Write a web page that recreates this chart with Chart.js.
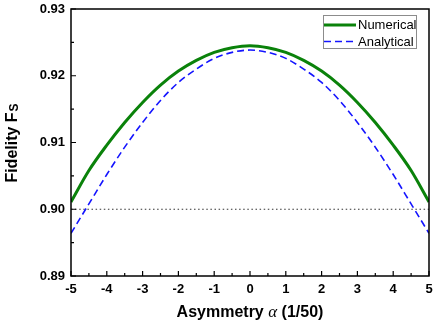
<!DOCTYPE html>
<html>
<head>
<meta charset="utf-8">
<script src="https://cdn.jsdelivr.net/npm/chart.js@4.4.1/dist/chart.umd.min.js"></script>
<style>
  html, body { margin: 0; padding: 0; background: #fff; }
  #wrap { width: 436px; height: 326px; }
</style>
</head>
<body>
<div id="wrap"><canvas id="myChart" width="436" height="326"></canvas></div>
<script>
// values
const alpha = [-5, -4.5, -4, -3.5, -3, -2.5, -2, -1.5, -1, -0.5, 0, 0.5, 1, 1.5, 2, 2.5, 3, 3.5, 4, 4.5, 5];
const numerical = [0.9011, 0.9058, 0.9096, 0.9130, 0.9160, 0.9186, 0.9207, 0.9223, 0.9235, 0.9242, 0.9245,
                   0.9242, 0.9235, 0.9223, 0.9207, 0.9186, 0.9160, 0.9130, 0.9096, 0.9058, 0.9011];
const analytical = [0.8964, 0.9008, 0.9052, 0.9093, 0.9130, 0.9163, 0.9190, 0.9210, 0.9226, 0.9235, 0.92385,
                    0.9235, 0.9226, 0.9210, 0.9190, 0.9163, 0.9130, 0.9093, 0.9052, 0.9008, 0.8964];
const threshold = 0.90;

const xTicks = [-5, -4, -3, -2, -1, 0, 1, 2, 3, 4, 5];
const yTicks = [0.89, 0.90, 0.91, 0.92, 0.93];

const seriesNames = ['Numerical', 'Analytical'];

const toPoints = (xs, ys) => xs.map((x, i) => ({ x: x, y: ys[i] }));

// frame, inward ticks, legend and axis titles
const decorations = {
    id: 'decorations',
    afterDraw(chart) {
        const ctx = chart.ctx;
        const { left, right, top, bottom } = chart.chartArea;
        const xs = chart.scales.x, ys = chart.scales.y;
        ctx.save();

        // box
        ctx.strokeStyle = '#000';
        ctx.lineWidth = 1.5;
        ctx.strokeRect(left, top, right - left, bottom - top);

        // ticks (major + minor), pointing inward on bottom and left
        ctx.lineWidth = 1.2;
        ctx.beginPath();
        for (let i = 0; i < xTicks.length; i++) {
            const px = xs.getPixelForValue(xTicks[i]);
            ctx.moveTo(px, bottom); ctx.lineTo(px, bottom - 5);
            if (i < xTicks.length - 1) {
                const mx = xs.getPixelForValue((xTicks[i] + xTicks[i + 1]) / 2);
                ctx.moveTo(mx, bottom); ctx.lineTo(mx, bottom - 3);
            }
        }
        for (let i = 0; i < yTicks.length; i++) {
            const py = ys.getPixelForValue(yTicks[i]);
            ctx.moveTo(left, py); ctx.lineTo(left + 5, py);
            if (i < yTicks.length - 1) {
                const my = ys.getPixelForValue((yTicks[i] + yTicks[i + 1]) / 2);
                ctx.moveTo(left, my); ctx.lineTo(left + 3, my);
            }
        }
        ctx.stroke();

        // legend
        const bx = right - 106, by = top + 6, bw = 93, bh = 33;
        ctx.fillStyle = '#fff';
        ctx.fillRect(bx, by, bw, bh);
        ctx.strokeStyle = '#8c8c8c';
        ctx.lineWidth = 1;
        ctx.strokeRect(bx + 0.5, by + 0.5, bw, bh);
        ctx.font = '13px Arial, "Liberation Sans", sans-serif';
        ctx.textBaseline = 'middle';
        ctx.textAlign = 'left';
        chart.data.datasets.slice(0, 2).forEach((ds, i) => {
            const ry = by + 10 + i * 16.5;
            ctx.strokeStyle = ds.borderColor;
            ctx.lineWidth = ds.borderWidth;
            ctx.setLineDash(ds.borderDash || []);
            ctx.beginPath();
            ctx.moveTo(bx + 1, ry); ctx.lineTo(bx + 33, ry);
            ctx.stroke();
            ctx.setLineDash([]);
            ctx.fillStyle = '#000';
            ctx.fillText(ds.label, bx + 35, ry + 0.5);
        });

        // x title: Asymmetry α (1/50)
        const bold = 'bold 16px Arial, "Liberation Sans", sans-serif';
        const greek = 'italic 17px "Liberation Serif", "DejaVu Serif", serif';
        const parts = [['Asymmetry ', bold], ['\u03B1', greek], [' (1/50)', bold]];
        let total = 0;
        parts.forEach(p => { ctx.font = p[1]; total += ctx.measureText(p[0]).width; });
        let cx = (left + right) / 2 - total / 2;
        ctx.fillStyle = '#000';
        ctx.textBaseline = 'alphabetic';
        parts.forEach(p => {
            ctx.font = p[1];
            ctx.fillText(p[0], cx, 317);
            cx += ctx.measureText(p[0]).width;
        });

        // y title: Fidelity F_S
        ctx.translate(17, (top + bottom) / 2 + 1);
        ctx.rotate(-Math.PI / 2);
        ctx.font = bold;
        const w1 = ctx.measureText('Fidelity F').width;
        ctx.font = 'bold 12px Arial, "Liberation Sans", sans-serif';
        const w2 = ctx.measureText('S').width;
        let sx = -(w1 + w2) / 2;
        ctx.font = bold;
        ctx.fillText('Fidelity F', sx, 0);
        ctx.font = 'bold 12px Arial, "Liberation Sans", sans-serif';
        ctx.fillText('S', sx + w1 + 1, 1);
        ctx.restore();
    }
};

const ctx = document.getElementById('myChart').getContext('2d');
const chart = new Chart(ctx, {
    type: 'line',
    data: {
        datasets: [
            {
                label: seriesNames[0],
                data: toPoints(alpha, numerical),
                borderColor: '#0a820a',
                borderWidth: 3,
                pointRadius: 0,
                cubicInterpolationMode: 'monotone',
                fill: false
            },
            {
                label: seriesNames[1],
                data: toPoints(alpha, analytical),
                borderColor: '#1414ff',
                borderWidth: 1.6,
                borderDash: [7, 4],
                pointRadius: 0,
                cubicInterpolationMode: 'monotone',
                fill: false
            },
            {
                label: 'threshold',
                data: [{ x: xTicks[0], y: threshold }, { x: xTicks[xTicks.length - 1], y: threshold }],
                borderColor: '#333',
                borderWidth: 1.2,
                borderDash: [1.5, 2.6],
                pointRadius: 0,
                fill: false
            }
        ]
    },
    options: {
        responsive: false,
        animation: false,
        layout: { padding: { top: 9, right: 7, left: 0, bottom: 0 } },
        plugins: {
            legend: { display: false },
            tooltip: { enabled: false }
        },
        scales: {
            x: {
                type: 'linear',
                min: -5,
                max: 5,
                grid: { display: false, tickLength: 0 },
                border: { display: false },
                ticks: {
                    stepSize: 1,
                    color: '#000',
                    padding: 6,
                    maxRotation: 0,
                    font: { family: 'Arial, "Liberation Sans", sans-serif', size: 13, weight: 'bold' }
                },
                afterFit: s => { s.height = 50; s.paddingLeft = 0; s.paddingRight = 0; }
            },
            y: {
                type: 'linear',
                min: 0.89,
                max: 0.93,
                grid: { display: false, tickLength: 0 },
                border: { display: false },
                ticks: {
                    stepSize: 0.01,
                    color: '#000',
                    padding: 6,
                    callback: v => v.toFixed(2),
                    font: { family: 'Arial, "Liberation Sans", sans-serif', size: 13, weight: 'bold' }
                },
                afterFit: s => { s.width = 71; s.paddingTop = 0; s.paddingBottom = 0; }
            }
        }
    },
    plugins: [decorations]
});
</script>
</body>
</html>
